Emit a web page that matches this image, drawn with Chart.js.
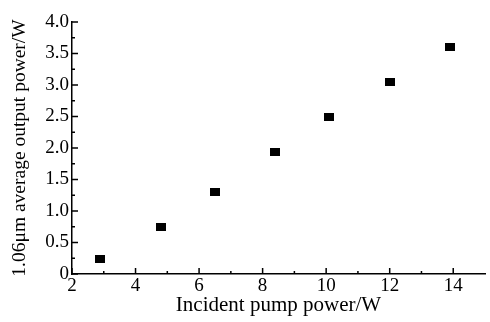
<!DOCTYPE html>
<html>
<head>
<meta charset="utf-8">
<script src="https://cdn.jsdelivr.net/npm/chart.js@4"></script>
<style>
  html, body { margin: 0; padding: 0; background: #fff; }
  #wrap { width: 490px; height: 322px; }
</style>
</head>
<body>
<div id="wrap"><canvas id="myChart"></canvas></div>
<script>
const pumpPower = [2.87, 4.8, 6.5, 8.4, 10.1, 12.0, 13.9];
const outputPower = [0.24, 0.75, 1.30, 1.94, 2.49, 3.05, 3.60];
const xTicks = [2, 4, 6, 8, 10, 12, 14];
const yTicks = [0, 0.5, 1.0, 1.5, 2.0, 2.5, 3.0, 3.5, 4.0];

const FONT = 'Liberation Serif';

// square-ish marker, a bit wider than tall like the scanned figure
const marker = document.createElement('canvas');
marker.width = 10;
marker.height = 8;
const mctx = marker.getContext('2d');
mctx.fillStyle = '#000';
mctx.fillRect(0, 0, 10, 8);

// ticks pointing into the plot, majors plus minors halfway between
const inwardTicks = {
    id: 'inwardTicks',
    afterDraw(chart) {
        const { ctx, scales: { x, y }, chartArea } = chart;
        ctx.save();
        ctx.strokeStyle = '#000';
        ctx.lineWidth = 1.5;
        ctx.beginPath();
        xTicks.forEach((v, i) => {
            const px = x.getPixelForValue(v);
            ctx.moveTo(px, chartArea.bottom);
            ctx.lineTo(px, chartArea.bottom - 6);
            if (i < xTicks.length - 1) {
                const mx = x.getPixelForValue(v + 1);
                ctx.moveTo(mx, chartArea.bottom);
                ctx.lineTo(mx, chartArea.bottom - 3);
            }
        });
        yTicks.forEach((v, i) => {
            const py = y.getPixelForValue(v);
            ctx.moveTo(chartArea.left, py);
            ctx.lineTo(chartArea.left + 6, py);
            if (i < yTicks.length - 1) {
                const my = y.getPixelForValue(v + 0.25);
                ctx.moveTo(chartArea.left, my);
                ctx.lineTo(chartArea.left + 3, my);
            }
        });
        ctx.stroke();
        ctx.restore();
    }
};

const ctx = document.getElementById('myChart').getContext('2d');
new Chart(ctx, {
    type: 'scatter',
    data: {
        datasets: [{
            data: pumpPower.map((p, i) => ({ x: p, y: outputPower[i] })),
            pointStyle: marker,
            pointRadius: 5,
            backgroundColor: '#000',
            borderColor: '#000',
            borderWidth: 0
        }]
    },
    options: {
        responsive: true,
        maintainAspectRatio: false,
        animation: false,
        layout: { padding: { top: 22, right: 0, left: 0, bottom: 0 } },
        plugins: { legend: { display: false }, tooltip: { enabled: false } },
        scales: {
            x: {
                type: 'linear',
                min: 2,
                max: 15,
                afterBuildTicks: axis => { axis.ticks = xTicks.map(v => ({ value: v })); },
                afterFit: axis => { axis.height = 48; },
                grid: { display: false, drawTicks: false },
                border: { display: true, color: '#000', width: 1.5 },
                ticks: {
                    color: '#000',
                    padding: 1,
                    maxRotation: 0,
                    font: { family: FONT, size: 19 }
                },
                title: {
                    display: true,
                    text: 'Incident pump power/W',
                    color: '#000',
                    padding: { top: 0, bottom: 4 },
                    font: { family: FONT, size: 21 }
                }
            },
            y: {
                type: 'linear',
                min: 0,
                max: 4,
                afterBuildTicks: axis => { axis.ticks = yTicks.map(v => ({ value: v })); },
                afterFit: axis => { axis.width = 72; },
                grid: { display: false, drawTicks: false },
                border: { display: true, color: '#000', width: 1.5 },
                ticks: {
                    color: '#000',
                    padding: 3,
                    font: { family: FONT, size: 19 },
                    callback: v => v === 0 ? '0' : v.toFixed(1)
                },
                title: {
                    display: true,
                    text: '1.06\u03bcm average output power/W',
                    color: '#000',
                    padding: { top: 8, bottom: 0 },
                    font: { family: FONT, size: 19.5 }
                }
            }
        }
    },
    plugins: [inwardTicks]
});
</script>
</body>
</html>
